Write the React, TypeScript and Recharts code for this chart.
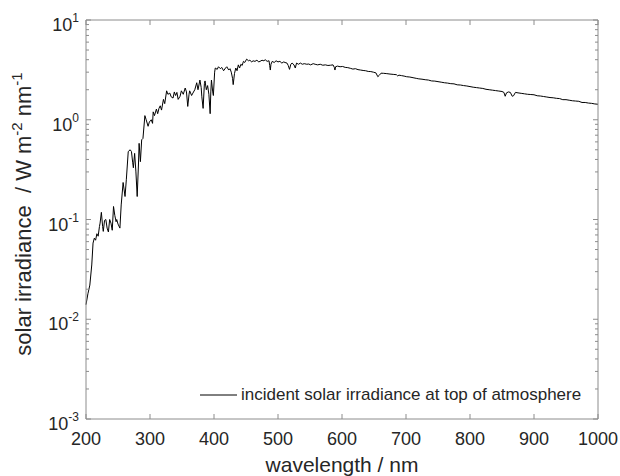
import React from 'react';
import { LineChart, Line, XAxis, YAxis, Legend } from 'recharts';

// spectrum (nm, W m-2 nm-1)
const wavelength = [
  200, 203, 206, 209, 211, 213, 215, 217, 219, 221,
  222, 224, 226, 227, 229, 231, 233, 235, 237, 239,
  241, 243, 245, 247, 248, 250, 253, 255, 258, 261,
  263, 266, 269, 271, 273, 274, 276, 278, 280, 282,
  283, 285, 287, 289, 292, 294, 297, 299, 302, 304,
  305, 307, 310, 312, 314, 316, 318, 321, 323, 326,
  328, 331, 333, 336, 338, 340, 342, 344, 347, 349,
  352, 355, 357, 359, 361, 362, 365, 367, 370, 373,
  375, 378, 380, 381, 383, 385, 386, 388, 390, 392,
  394, 395, 396, 398, 399, 401, 402, 405, 407, 410,
  412, 415, 418, 420, 423, 425, 427, 429, 430, 432,
  434, 436, 438, 440, 442, 444, 446, 448, 451, 454,
  456, 459, 461, 464, 467, 470, 472, 475, 478, 480,
  483, 486, 487, 488, 489, 491, 494, 497, 500, 503,
  506, 509, 511, 514, 516, 518, 520, 522, 525, 527,
  529, 532, 535, 538, 541, 545, 548, 551, 555, 558,
  562, 566, 570, 574, 578, 582, 586, 588, 589, 590,
  593, 597, 601, 605, 609, 613, 617, 621, 625, 629,
  633, 637, 641, 645, 649, 653, 656, 658, 661, 665,
  670, 675, 680, 685, 687, 689, 693, 697, 701, 706,
  711, 716, 720, 725, 730, 735, 740, 745, 750, 755,
  760, 765, 770, 775, 780, 785, 790, 795, 800, 805,
  810, 815, 820, 825, 830, 835, 840, 845, 850, 853,
  855, 857, 860, 863, 866, 868, 871, 875, 880, 885,
  890, 895, 900, 905, 910, 915, 920, 925, 930, 935,
  940, 945, 950, 955, 960, 965, 970, 975, 980, 985,
  990, 995, 1000,
];

const irradiance = [
  0.014, 0.018, 0.022, 0.035, 0.058, 0.065, 0.062, 0.072, 0.068, 0.085,
  0.092, 0.118, 0.085, 0.076, 0.098, 0.1, 0.082, 0.075, 0.1, 0.092,
  0.078, 0.135, 0.11, 0.095, 0.1, 0.09, 0.082, 0.14, 0.235, 0.17,
  0.25, 0.48, 0.5, 0.48, 0.37, 0.33, 0.46, 0.3, 0.17, 0.36,
  0.58, 0.38, 0.63, 0.65, 1.1, 1.0, 0.86, 0.95, 1.0, 0.92,
  1.2, 1.1, 1.28, 1.15, 1.3, 1.38, 1.25, 1.6, 1.45, 1.95,
  1.8, 1.85, 1.7, 1.65, 1.9, 1.75, 1.88, 1.6, 1.72, 1.95,
  1.8, 2.08, 1.9, 1.36, 1.8, 1.95, 1.75, 1.85, 2.0, 2.35,
  2.0, 2.5, 2.1, 1.7, 1.3, 2.3, 2.45, 2.0, 2.2, 1.8,
  1.15, 1.9, 2.5, 1.9, 1.75, 3.0, 3.3, 3.2, 3.4, 3.25,
  3.35, 3.1, 3.3, 3.4, 3.15, 3.25, 3.0, 2.6, 2.25, 2.9,
  3.3, 3.1, 3.55, 3.3, 3.6, 3.5, 3.85, 3.75, 4.05, 3.9,
  3.95, 3.8, 3.9, 3.85, 3.95, 3.8, 3.85, 3.95, 3.9, 4.0,
  3.85, 3.9, 3.5, 3.15, 3.6, 3.85, 3.75, 3.9, 3.8, 3.85,
  3.7, 3.8, 3.75, 3.7, 3.5, 3.2, 3.6, 3.7, 3.55, 3.3,
  3.7, 3.6, 3.7, 3.6, 3.65, 3.6, 3.62, 3.55, 3.65, 3.6,
  3.55, 3.6, 3.52, 3.55, 3.5, 3.52, 3.55, 3.35, 3.15, 3.4,
  3.45, 3.4, 3.42, 3.35, 3.33, 3.28, 3.22, 3.25, 3.18, 3.15,
  3.12, 3.1, 3.05, 3.04, 3.0, 2.95, 2.7, 2.78, 2.93, 2.92,
  2.9, 2.87, 2.85, 2.83, 2.75, 2.8, 2.77, 2.74, 2.7, 2.68,
  2.64, 2.6, 2.57, 2.55, 2.52, 2.5, 2.45, 2.44, 2.41, 2.38,
  2.35, 2.33, 2.3, 2.29, 2.24, 2.23, 2.2, 2.18, 2.15, 2.12,
  2.1, 2.08, 2.06, 2.02, 2.0, 1.98, 1.96, 1.94, 1.92, 1.88,
  1.72, 1.86, 1.9, 1.88, 1.72, 1.74, 1.88, 1.86, 1.84, 1.82,
  1.8, 1.79, 1.78, 1.74, 1.73, 1.71, 1.69, 1.67, 1.66, 1.64,
  1.63, 1.59, 1.59, 1.57, 1.55, 1.54, 1.53, 1.49, 1.49, 1.47,
  1.46, 1.44, 1.43,
];

const xTicks = [200, 300, 400, 500, 600, 700, 800, 900, 1000];
const yDecades = [0.001, 0.01, 0.1, 1];
const yMinor = [1, 2, 3, 4, 5, 6, 7, 8, 9];
const yTicks = [...yDecades.flatMap((d) => yMinor.map((m) => +(d * m).toPrecision(3))), 10];

const data = wavelength.map((wl, i) => ({ wl, v: irradiance[i] }));

const FONT = '"Liberation Sans", Arial, Helvetica, sans-serif';
const AXIS = '#8c8c8c';
const TEXT = '#262626';

const isMajor = (v: number) => {
  const e = Math.round(Math.log10(v));
  return Math.abs(v - Math.pow(10, e)) < 1e-9;
};

const LeftTick = ({ x, y, payload }: any) => {
  const v = payload.value;
  const major = isMajor(v);
  const e = Math.round(Math.log10(v));
  return (
    <g>
      <line x1={x} y1={y} x2={x + (major ? 5 : 3)} y2={y} stroke={AXIS} />
      {major && (
        <text x={x - 7} y={y + 11} textAnchor="end" fontSize={18} fill={TEXT} fontFamily={FONT}>
          10<tspan dy={-9} fontSize={12}>{e}</tspan>
        </text>
      )}
    </g>
  );
};

const RightTick = ({ x, y, payload }: any) => {
  const major = isMajor(payload.value);
  return <line x1={x} y1={y} x2={x - (major ? 5 : 3)} y2={y} stroke={AXIS} />;
};

const BottomTick = ({ x, y, payload }: any) => (
  <g>
    <line x1={x} y1={y} x2={x} y2={y - 5} stroke={AXIS} />
    <text x={x} y={y + 26} textAnchor="middle" fontSize={18} fill={TEXT} fontFamily={FONT}>
      {payload.value}
    </text>
  </g>
);

const TopTick = ({ x, y }: any) => <line x1={x} y1={y} x2={x} y2={y + 5} stroke={AXIS} />;

const XLabel = () => (
  <text x={342} y={472} textAnchor="middle" fontSize={21} fill={TEXT} fontFamily={FONT}>
    wavelength / nm
  </text>
);

const YLabel = () => (
  <text
    transform="translate(31,214) rotate(-90)"
    textAnchor="middle"
    fontSize={22}
    fill={TEXT}
    fontFamily={FONT}
    style={{ whiteSpace: 'pre' }}
  >
    {'solar irradiance  / W m'}
    <tspan dy={-9} fontSize={15}>-2</tspan>
    <tspan dy={9}>{' nm'}</tspan>
    <tspan dy={-9} fontSize={15}>-1</tspan>
  </text>
);

const LegendBox = () => (
  <div style={{ display: 'flex', alignItems: 'center', fontFamily: FONT, fontSize: 17, color: TEXT, whiteSpace: 'nowrap' }}>
    <svg width={41} height={20}>
      <line x1={0} y1={10} x2={37} y2={10} stroke="#000" strokeWidth={1} />
    </svg>
    <span>incident solar irradiance at top of atmosphere</span>
  </div>
);

export default function App() {
  return (
    <div style={{ position: 'absolute', left: 0, top: 0, background: '#fff' }}>
      <LineChart width={620} height={476} data={data} margin={{ top: 19, right: 21, bottom: 0, left: 16 }}>
        <XAxis
          dataKey="wl"
          type="number"
          domain={[200, 1000]}
          ticks={xTicks}
          interval={0}
          height={57}
          tickSize={0}
          tickMargin={0}
          tickLine={false}
          axisLine={{ stroke: AXIS }}
          tick={<BottomTick />}
          label={<XLabel />}
        />
        <XAxis
          xAxisId="top"
          dataKey="wl"
          type="number"
          orientation="top"
          domain={[200, 1000]}
          ticks={xTicks}
          interval={0}
          height={1}
          tickSize={0}
          tickMargin={0}
          tickLine={false}
          axisLine={{ stroke: AXIS }}
          tick={<TopTick />}
        />
        <YAxis
          type="number"
          scale="log"
          domain={[0.001, 10]}
          allowDataOverflow
          ticks={yTicks}
          interval={0}
          width={70}
          tickSize={0}
          tickMargin={0}
          tickLine={false}
          axisLine={{ stroke: AXIS }}
          tick={<LeftTick />}
          label={<YLabel />}
        />
        <YAxis
          yAxisId="right"
          orientation="right"
          type="number"
          scale="log"
          domain={[0.001, 10]}
          allowDataOverflow
          ticks={yTicks}
          interval={0}
          width={1}
          tickSize={0}
          tickMargin={0}
          tickLine={false}
          axisLine={{ stroke: AXIS }}
          tick={<RightTick />}
        />
        <Legend
          layout="horizontal"
          verticalAlign="middle"
          align="center"
          content={<LegendBox />}
          wrapperStyle={{ left: 200, top: 385, width: 'auto', height: 20 }}
        />
        <Line
          dataKey="v"
          type="linear"
          stroke="#000"
          strokeWidth={1}
          dot={false}
          isAnimationActive={false}
        />
        <Line
          xAxisId="top"
          yAxisId="right"
          dataKey="v"
          stroke="none"
          dot={false}
          legendType="none"
          isAnimationActive={false}
        />
      </LineChart>
    </div>
  );
}
